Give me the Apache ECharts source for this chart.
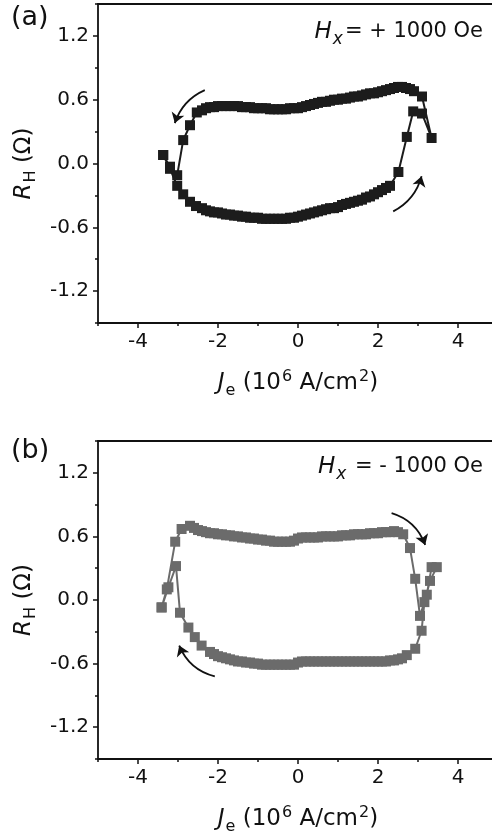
<!DOCTYPE html>
<html><head><meta charset="utf-8">
<script src="https://cdn.jsdelivr.net/npm/echarts@6/dist/echarts.min.js"></script>
<style>html,body{margin:0;padding:0;background:#fff}#c{width:492px;height:838px}</style>
</head><body><div id="c"></div>
<script>
// ---------- data: [J_e (10^6 A/cm^2), R_H (Ohm)] in sweep order ----------
// panel (a), Hx = +1000 Oe
const aLower = [[-3.37,0.08],[-3.2,-0.05],[-3.02,-0.21],[-2.87,-0.29],[-2.7,-0.36],[-2.55,-0.40],
 [-2.4,-0.42],[-2.3,-0.44],[-2.2,-0.45],[-2.1,-0.46],[-2.0,-0.46],[-1.9,-0.47],[-1.8,-0.48],[-1.7,-0.48],
 [-1.6,-0.49],[-1.5,-0.49],[-1.4,-0.50],[-1.3,-0.50],[-1.2,-0.51],[-1.1,-0.51],[-1.0,-0.51],[-0.9,-0.52],
 [-0.8,-0.52],[-0.7,-0.52],[-0.6,-0.52],[-0.5,-0.52],[-0.4,-0.52],[-0.3,-0.52],[-0.2,-0.51],[-0.1,-0.51],
 [0.0,-0.50],[0.1,-0.49],[0.2,-0.48],[0.3,-0.47],[0.4,-0.46],[0.5,-0.45],[0.6,-0.44],[0.7,-0.43],
 [0.8,-0.42],[0.9,-0.42],[1.0,-0.41],[1.1,-0.39],[1.2,-0.38],[1.3,-0.37],[1.4,-0.36],[1.5,-0.35],
 [1.6,-0.34],[1.7,-0.32],[1.8,-0.31],[1.9,-0.29],[2.0,-0.27],[2.1,-0.25],[2.2,-0.23],[2.3,-0.21]];
const aRight = [[2.51,-0.08],[2.72,0.25],[2.88,0.49],[3.1,0.47],[3.34,0.24],[3.1,0.63],[2.9,0.68]];
const aUpper = [[2.8,0.70],[2.7,0.71],[2.6,0.72],[2.5,0.72],[2.4,0.71],[2.3,0.70],[2.2,0.69],[2.1,0.68],
 [2.0,0.67],[1.9,0.66],[1.8,0.66],[1.7,0.65],[1.6,0.64],[1.5,0.63],[1.4,0.63],[1.3,0.62],[1.2,0.61],
 [1.1,0.61],[1.0,0.60],[0.9,0.60],[0.8,0.59],[0.7,0.58],[0.6,0.58],[0.5,0.57],[0.4,0.56],[0.3,0.55],
 [0.2,0.54],[0.1,0.53],[0.0,0.52],[-0.1,0.52],[-0.2,0.52],[-0.3,0.51],[-0.4,0.51],[-0.5,0.51],[-0.6,0.51],
 [-0.7,0.51],[-0.8,0.52],[-0.9,0.52],[-1.0,0.52],[-1.1,0.52],[-1.2,0.53],[-1.3,0.53],[-1.4,0.53],
 [-1.5,0.54],[-1.6,0.54],[-1.7,0.54],[-1.8,0.54],[-1.9,0.54],[-2.0,0.54],[-2.1,0.53],[-2.2,0.53],
 [-2.3,0.52],[-2.4,0.50],[-2.53,0.48]];
const aLeft = [[-2.7,0.36],[-2.87,0.22],[-3.02,-0.11],[-3.2,-0.03],[-3.37,0.08]];

// panel (b), Hx = -1000 Oe
const bLeftUp = [[-3.41,-0.07],[-3.28,0.10],[-3.07,0.55],[-2.91,0.67],[-2.7,0.70]];
const bUpper = [[-2.6,0.68],[-2.5,0.66],[-2.4,0.65],[-2.3,0.64],[-2.2,0.63],[-2.1,0.63],[-2.0,0.62],
 [-1.9,0.62],[-1.8,0.61],[-1.7,0.61],[-1.6,0.60],[-1.5,0.60],[-1.4,0.59],[-1.3,0.59],[-1.2,0.58],
 [-1.1,0.58],[-1.0,0.57],[-0.9,0.57],[-0.8,0.56],[-0.7,0.56],[-0.6,0.55],[-0.5,0.55],[-0.4,0.55],
 [-0.3,0.55],[-0.2,0.55],[-0.1,0.56],[0.0,0.58],[0.1,0.59],[0.2,0.59],[0.3,0.59],[0.4,0.59],[0.5,0.59],
 [0.6,0.60],[0.7,0.60],[0.8,0.60],[0.9,0.60],[1.0,0.60],[1.1,0.61],[1.2,0.61],[1.3,0.61],[1.4,0.62],
 [1.5,0.62],[1.6,0.62],[1.7,0.62],[1.8,0.63],[1.9,0.63],[2.0,0.63],[2.1,0.64],[2.2,0.64],[2.3,0.64],
 [2.4,0.65],[2.5,0.64],[2.63,0.62]];
const bRight = [[2.8,0.49],[2.93,0.20],[3.05,-0.15],[3.22,0.05],[3.34,0.31],[3.47,0.31],[3.3,0.18],
 [3.16,-0.02],[3.09,-0.29],[2.93,-0.46],[2.72,-0.52]];
const bLower = [[2.6,-0.55],[2.5,-0.56],[2.4,-0.57],[2.3,-0.57],[2.2,-0.58],[2.1,-0.58],[2.0,-0.58],
 [1.9,-0.58],[1.8,-0.58],[1.7,-0.58],[1.6,-0.58],[1.5,-0.58],[1.4,-0.58],[1.3,-0.58],[1.2,-0.58],
 [1.1,-0.58],[1.0,-0.58],[0.9,-0.58],[0.8,-0.58],[0.7,-0.58],[0.6,-0.58],[0.5,-0.58],[0.4,-0.58],
 [0.3,-0.58],[0.2,-0.58],[0.1,-0.58],[0.0,-0.59],[-0.1,-0.61],[-0.2,-0.61],[-0.3,-0.61],[-0.4,-0.61],
 [-0.5,-0.61],[-0.6,-0.61],[-0.7,-0.61],[-0.8,-0.61],[-0.9,-0.61],[-1.0,-0.60],[-1.1,-0.60],[-1.2,-0.59],
 [-1.3,-0.59],[-1.4,-0.58],[-1.5,-0.58],[-1.6,-0.57],[-1.7,-0.56],[-1.8,-0.55],[-1.9,-0.54],[-2.0,-0.53],
 [-2.1,-0.51],[-2.2,-0.49],[-2.41,-0.43],[-2.58,-0.35],[-2.74,-0.26],[-2.95,-0.12]];
const bLeft = [[-3.05,0.32],[-3.24,0.12],[-3.41,-0.07]];

// sweep-direction arrows [from, to] in data units
const arrowsA = [[[-2.33,0.69],[-3.08,0.38]], [[2.38,-0.45],[3.09,-0.12]]];
const arrowsB = [[[2.34,0.82],[3.18,0.52]], [[-2.08,-0.72],[-2.97,-0.43]]];

// axes
const xRange = [-5, 5];
const yRange = [-1.5, 1.5];
const xMajor = [-4, -2, 0, 2, 4];
const yMajor = [-1.2, -0.6, 0, 0.6, 1.2];
const panelLabels = ['(a)', '(b)'];
const fieldLabels = ['{it|H}{subi|x}{n|= + 1000 Oe}', '{it|H}{subi|x}{n| = - 1000 Oe}'];

const F = '"DejaVu Sans", Verdana, sans-serif';
const INK = '#111';
const rich = {
  it: {fontFamily: F, fontSize: 23, fontStyle: 'italic', fontWeight: 'normal', color: INK},
  n: {fontFamily: F, fontSize: 21, fontWeight: 'normal', color: INK},
  subi: {fontFamily: F, fontSize: 17, fontStyle: 'italic', fontWeight: 'normal', color: INK, padding: [15, 2, 0, 1]},
  ax: {fontFamily: F, fontSize: 23, fontStyle: 'italic', fontWeight: 'normal', color: INK},
  axn: {fontFamily: F, fontSize: 23, fontWeight: 'normal', color: INK},
  sub: {fontFamily: F, fontSize: 16, fontWeight: 'normal', color: INK, padding: [15, 0, 0, 1]},
  sup: {fontFamily: F, fontSize: 16, fontWeight: 'normal', color: INK, padding: [0, 0, 13, 1]}
};

const grids = [
  {left: 98, top: 4, width: 400, height: 319},
  {left: 98, top: 441, width: 400, height: 318}
];

const xAxes = [], yAxes = [];
grids.forEach((g, i) => {
  xAxes.push({
    gridIndex: i, type: 'value', position: 'bottom', min: xRange[0], max: xRange[1], interval: 1,
    axisLine: {onZero: false, lineStyle: {color: INK, width: 1.8}},
    axisTick: {customValues: xMajor, length: 5, lineStyle: {color: INK, width: 1.5}},
    axisLabel: {customValues: xMajor, margin: 9, fontFamily: F, fontSize: 20, color: INK},
    splitLine: {show: false},
    name: '{ax|J}{sub|e}{axn| (10}{sup|6}{axn| A/cm}{sup|2}{axn|)}',
    nameLocation: 'middle', nameGap: 45,
    nameTextStyle: {rich: rich}
  });
  xAxes.push({
    gridIndex: i, type: 'value', position: 'bottom', offset: 0, min: xRange[0], max: xRange[1], interval: 1,
    axisLine: {show: false, onZero: false},
    axisTick: {length: 3, lineStyle: {color: INK, width: 1.5}},
    axisLabel: {show: false}, splitLine: {show: false}
  });
  xAxes.push({
    gridIndex: i, type: 'value', position: 'top', min: xRange[0], max: xRange[1],
    axisLine: {onZero: false, lineStyle: {color: INK, width: 1.8}},
    axisTick: {show: false}, axisLabel: {show: false}, splitLine: {show: false}
  });
  yAxes.push({
    gridIndex: i, type: 'value', position: 'left', min: yRange[0], max: yRange[1], interval: 0.3,
    axisLine: {onZero: false, lineStyle: {color: INK, width: 1.8}},
    axisTick: {customValues: yMajor, length: 5, lineStyle: {color: INK, width: 1.5}},
    axisLabel: {customValues: yMajor, margin: 9, fontFamily: F, fontSize: 20, color: INK,
      formatter: v => v.toFixed(1)},
    splitLine: {show: false},
    name: '{ax|R}{sub|H}{axn| (Ω)}',
    nameLocation: 'middle', nameGap: 55,
    nameTextStyle: {rich: rich}
  });
  yAxes.push({
    gridIndex: i, type: 'value', position: 'left', offset: 0, min: yRange[0], max: yRange[1], interval: 0.3,
    axisLine: {show: false, onZero: false},
    axisTick: {length: 3, lineStyle: {color: INK, width: 1.5}},
    axisLabel: {show: false}, splitLine: {show: false}
  });
});

function loopSeries(data, idx, color) {
  return {
    type: 'line', xAxisIndex: idx * 3, yAxisIndex: idx * 2, data: data,
    symbol: 'rect', symbolSize: 10, showSymbol: true,
    itemStyle: {color: color}, lineStyle: {color: color, width: 2},
    animation: false, z: 3
  };
}
function arrowSeries(list, idx, curv) {
  return {
    type: 'lines', coordinateSystem: 'cartesian2d', xAxisIndex: idx * 3, yAxisIndex: idx * 2,
    symbol: ['none', 'arrow'], symbolSize: 10,
    data: list.map((a, k) => ({coords: a, lineStyle: {curveness: curv[k]}})),
    lineStyle: {color: INK, width: 1.8, opacity: 1}, animation: false, z: 4
  };
}

const loopA = [].concat(aLower, aRight, aUpper, aLeft);
const loopB = [].concat(bLeftUp, bUpper, bRight, bLower, bLeft);

const option = {
  backgroundColor: '#fff',
  animation: false,
  textStyle: {fontFamily: F},
  grid: grids.map(g => Object.assign({show: false, outerBoundsMode: 'none', containLabel: false}, g)),
  xAxis: xAxes,
  yAxis: yAxes,
  title: [
    {text: panelLabels[0], left: 11, top: 4, padding: 0, textStyle: {fontFamily: F, fontSize: 27, fontWeight: 'normal', color: INK}},
    {text: panelLabels[1], left: 11, top: 437, padding: 0, textStyle: {fontFamily: F, fontSize: 27, fontWeight: 'normal', color: INK}},
    {text: fieldLabels[0], right: 9, top: 16, padding: 0, textStyle: {fontWeight: 'normal', rich: rich}},
    {text: fieldLabels[1], right: 9, top: 451, padding: 0, textStyle: {fontWeight: 'normal', rich: rich}}
  ],
  series: [
    loopSeries(loopA, 0, '#1c1c1c'),
    loopSeries(loopB, 1, '#6b6b6b'),
    arrowSeries(arrowsA, 0, [-0.22, -0.22]),
    arrowSeries(arrowsB, 1, [0.25, 0.25])
  ]
};
const chart = echarts.init(document.getElementById('c'), null, {renderer: 'canvas'});
chart.setOption(option);
</script></body></html>
